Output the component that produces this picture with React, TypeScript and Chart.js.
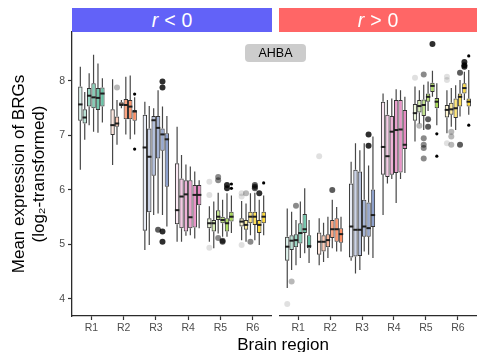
import React, { useEffect, useRef } from 'react';
import { Chart, registerables } from 'chart.js';

Chart.register(...registerables);

const regions = ['R1', 'R2', 'R3', 'R4', 'R5', 'R6'];
const regionColors = ['#66C2A5', '#FC8D62', '#8DA0CB', '#E78AC3', '#A6D854', '#FFD92F'];
const groupAlpha = [0.2, 0.45, 0.65, 0.8, 0.92, 1];
const outlierAlpha = [0.12, 0.28, 0.46, 0.64, 0.82, 1];
const outlierRadius = [3, 3, 3, 3, 3, 1.6];
const yTicks = [4, 5, 6, 7, 8];
const yMin = 3.688;
const yMax = 8.899;

// r < 0 panel: rows = regions R1..R6, columns = 6 boxes per region
const negLow = [
  [6.37, 6.92, 7.19, 7.07, 7.05, 7.24],
  [6.46, 6.83, 7.5, 7.02, 6.93, 7.02],
  [4.9, 4.99, 5.54, 5.57, 5.54, 5.33],
  [5.05, 5.05, 5.16, 5.17, 5.11, 5.3],
  [5.05, 4.93, 5.2, 5.14, 5.14, 5.21],
  [5.08, 5.05, 5.17, 5.08, 4.99, 5.17],
];
const negQ1 = [
  [7.27, 7.22, 7.53, 7.5, 7.47, 7.53],
  [7.01, 7.16, 7.54, 7.3, 7.3, 7.27],
  [5.25, 5.59, 6.26, 6.58, 6.72, 6.06],
  [5.37, 5.3, 5.24, 5.3, 5.31, 5.72],
  [5.3, 5.24, 5.45, 5.39, 5.24, 5.42],
  [5.33, 5.27, 5.39, 5.36, 5.21, 5.39],
];
const negMed = [
  [7.57, 7.33, 7.73, 7.7, 7.69, 7.77],
  [7.19, 7.22, 7.57, 7.56, 7.53, 7.44],
  [6.78, 6.61, 7.28, 7.14, 7.02, 6.93],
  [5.63, 5.88, 5.92, 5.5, 5.91, 5.91],
  [5.39, 5.39, 5.51, 5.45, 5.39, 5.51],
  [5.42, 5.36, 5.51, 5.51, 5.36, 5.51],
];
const negQ3 = [
  [7.9, 7.48, 7.87, 7.96, 7.87, 7.88],
  [7.48, 7.35, 7.61, 7.67, 7.65, 7.47],
  [7.38, 7.13, 7.36, 7.36, 7.13, 7.04],
  [6.49, 6.21, 6.18, 6.18, 6.09, 6.09],
  [5.48, 5.45, 5.63, 5.51, 5.48, 5.6],
  [5.48, 5.45, 5.6, 5.6, 5.45, 5.6],
];
const negHigh = [
  [8.26, 7.8, 8.14, 8.48, 8.32, 8.05],
  [8.03, 7.65, 7.65, 8.08, 8.1, 7.7],
  [7.62, 7.54, 7.5, 7.83, 7.53, 7.36],
  [7.16, 6.64, 6.47, 6.43, 6.34, 6.18],
  [5.7, 5.79, 5.95, 5.82, 5.94, 5.9],
  [5.8, 5.75, 5.94, 5.95, 5.82, 5.9],
];
// [region index, box index, value]
const negOutliers = [
  [1, 1, 7.88], [1, 5, 7.76], [1, 5, 6.75],
  [2, 4, 7.99], [2, 4, 7.88], [2, 3, 5.27], [2, 4, 5.24], [2, 4, 5.05],
  [4, 0, 6.15], [4, 0, 5.91], [4, 0, 4.94], [4, 2, 6.24], [4, 2, 6.18], [4, 2, 5.12],
  [4, 3, 5.07], [4, 3, 5.05], [4, 4, 6.09], [4, 4, 6.03], [4, 5, 6.11], [4, 5, 6.03],
  [5, 0, 5.94], [5, 0, 5.88], [5, 0, 4.99], [5, 1, 5.94], [5, 2, 5.05], [5, 3, 6.09],
  [5, 3, 6.03], [5, 3, 6.06], [5, 4, 5.94], [5, 5, 6.13],
];

// r > 0 panel
const posLow = [
  [4.2, 4.53, 4.62, 4.75, 4.84, 4.66],
  [4.62, 4.68, 4.75, 4.93, 4.87, 4.87],
  [4.7, 4.47, 4.53, 4.87, 4.81, 4.75],
  [5.54, 6.12, 6.2, 5.76, 6.2, 6.31],
  [6.89, 7.22, 7.1, 7.45, 7.71, 7.19],
  [7.04, 7.16, 7.1, 7.35, 7.65, 7.38],
];
const posQ1 = [
  [4.7, 4.9, 4.95, 5.02, 5.21, 4.93],
  [4.81, 4.87, 4.95, 5.12, 5.05, 5.03],
  [4.76, 4.78, 4.79, 5.14, 5.14, 5.32],
  [6.28, 6.24, 6.28, 6.31, 6.32, 6.75],
  [7.27, 7.42, 7.36, 7.62, 7.8, 7.5],
  [7.33, 7.38, 7.32, 7.53, 7.77, 7.53],
];
const posMed = [
  [4.96, 5.07, 5.08, 5.21, 5.28, 4.97],
  [5.05, 5.05, 5.08, 5.28, 5.28, 5.19],
  [5.33, 5.27, 5.27, 5.33, 5.3, 5.54],
  [6.79, 6.62, 7.07, 7.1, 7.11, 6.83],
  [7.41, 7.54, 7.56, 7.71, 7.91, 7.62],
  [7.47, 7.48, 7.5, 7.71, 7.87, 7.62],
];
const posQ3 = [
  [5.14, 5.17, 5.19, 5.39, 5.56, 5.17],
  [5.22, 5.17, 5.19, 5.45, 5.48, 5.3],
  [6.12, 6.37, 6.34, 5.82, 5.77, 6.01],
  [7.62, 7.38, 7.36, 7.65, 7.65, 7.47],
  [7.58, 7.65, 7.66, 7.77, 7.97, 7.69],
  [7.56, 7.6, 7.68, 7.77, 7.96, 7.68],
];
const posHigh = [
  [5.66, 5.6, 5.45, 5.79, 6.03, 5.45],
  [5.48, 5.4, 5.51, 5.82, 5.69, 5.51],
  [6.52, 6.86, 6.73, 6.86, 6.45, 6.98],
  [7.77, 7.65, 7.68, 7.85, 7.83, 7.71],
  [7.9, 7.83, 7.93, 7.99, 8.19, 7.96],
  [7.83, 7.87, 7.92, 8.02, 8.17, 8.2],
];
const posOutliers = [
  [0, 0, 3.91], [0, 1, 4.32], [0, 2, 5.71],
  [1, 0, 6.62], [1, 3, 6.0],
  [2, 4, 7.02], [2, 4, 6.81],
  [4, 0, 8.06], [4, 1, 7.18], [4, 2, 8.12], [4, 2, 6.95], [4, 2, 6.83], [4, 2, 6.77],
  [4, 2, 6.58], [4, 3, 7.3], [4, 3, 7.16], [4, 4, 8.68], [4, 5, 7.03], [4, 5, 6.62],
  [5, 0, 8.08], [5, 0, 8.02], [5, 0, 6.86], [5, 1, 7.07], [5, 1, 6.98], [5, 1, 6.83],
  [5, 3, 8.15], [5, 3, 6.83], [5, 4, 8.35], [5, 4, 8.29], [5, 4, 8.26], [5, 5, 8.46], [5, 5, 7.19],
];

const FONT = '"Liberation Sans", Arial, Helvetica, sans-serif';

function rgba(hex: string, a: number) {
  const n = parseInt(hex.slice(1), 16);
  return `rgba(${(n >> 16) & 255},${(n >> 8) & 255},${n & 255},${a})`;
}

type Stats = {
  low: number[][];
  q1: number[][];
  med: number[][];
  q3: number[][];
  high: number[][];
  outliers: number[][];
};

function makePanel(canvas: HTMLCanvasElement, s: Stats, showY: boolean) {
  const boxExtras = {
    id: 'boxExtras',
    afterDatasetsDraw(chart: any) {
      const ctx = chart.ctx;
      const y = chart.scales.y;
      ctx.save();
      chart.data.datasets.forEach((_: any, g: number) => {
        const meta = chart.getDatasetMeta(g);
        meta.data.forEach((el: any, r: number) => {
          const x = el.x;
          const w = el.width;
          ctx.strokeStyle = '#474747';
          ctx.lineWidth = 1.2;
          ctx.beginPath();
          ctx.moveTo(x, y.getPixelForValue(s.q3[r][g]));
          ctx.lineTo(x, y.getPixelForValue(s.high[r][g]));
          ctx.moveTo(x, y.getPixelForValue(s.q1[r][g]));
          ctx.lineTo(x, y.getPixelForValue(s.low[r][g]));
          ctx.stroke();
          const ym = y.getPixelForValue(s.med[r][g]);
          ctx.strokeStyle = '#1e1e1e';
          ctx.lineWidth = 2;
          ctx.beginPath();
          ctx.moveTo(x - w / 2, ym);
          ctx.lineTo(x + w / 2, ym);
          ctx.stroke();
        });
      });
      s.outliers.forEach(([r, g, v]) => {
        const el = chart.getDatasetMeta(g).data[r];
        ctx.fillStyle = `rgba(0,0,0,${outlierAlpha[g]})`;
        ctx.beginPath();
        ctx.arc(el.x, y.getPixelForValue(v), outlierRadius[g], 0, Math.PI * 2);
        ctx.fill();
      });
      ctx.restore();
    },
  };

  const datasets = groupAlpha.map((a, g) => ({
    data: regions.map((_, r) => [s.q1[r][g], s.q3[r][g]]),
    backgroundColor: regions.map((_, r) => rgba(regionColors[r], a)),
    borderColor: '#333333',
    borderWidth: 1,
    borderSkipped: false,
    categoryPercentage: 0.82,
    barPercentage: 1,
  }));

  return new Chart(canvas, {
    type: 'bar',
    data: { labels: regions, datasets },
    plugins: [boxExtras],
    options: {
      animation: false,
      responsive: false,
      devicePixelRatio: 1,
      layout: { padding: { top: 32, left: 0, right: 0, bottom: 0 } },
      plugins: { legend: { display: false }, tooltip: { enabled: false } },
      scales: {
        x: {
          type: 'category',
          offset: false,
          grid: {
            offset: false,
            drawOnChartArea: false,
            drawTicks: true,
            tickLength: 4,
            color: '#333333',
            tickWidth: 1.2,
          },
          border: { display: true, color: '#2b2b2b', width: 1.3 },
          ticks: {
            color: '#4D4D4D',
            font: { family: FONT, size: 10.5 },
            padding: 2,
            maxRotation: 0,
            autoSkip: false,
          },
          afterBuildTicks: (sc: any) => {
            sc._startValue = -0.6;
            sc._valueRange = 6.2;
          },
          afterFit: (sc: any) => {
            sc.height = 36;
          },
        },
        y: {
          display: showY,
          min: yMin,
          max: yMax,
          grid: {
            drawOnChartArea: false,
            drawTicks: true,
            tickLength: 4,
            color: '#333333',
            tickWidth: 1.2,
          },
          border: { display: true, color: '#2b2b2b', width: 1.3 },
          ticks: {
            color: '#4D4D4D',
            font: { family: FONT, size: 10.5 },
            padding: 3,
          },
          title: {
            display: showY,
            text: ['Mean expression of BRGs', '(log\u2082-transformed)'],
            color: '#000000',
            font: { family: FONT, size: 17, lineHeight: 1.13 },
            padding: { top: 10, bottom: 0 },
          },
          afterBuildTicks: (sc: any) => {
            sc.ticks = yTicks.map((v) => ({ value: v }));
          },
          afterFit: (sc: any) => {
            sc.width = showY ? 72 : 0;
          },
        },
      },
    } as any,
  });
}

const stripStyle: React.CSSProperties = {
  position: 'absolute',
  top: 8,
  height: 24,
  display: 'flex',
  alignItems: 'center',
  justifyContent: 'center',
  color: '#ffffff',
  fontSize: 19.5,
  lineHeight: '24px',
  whiteSpace: 'nowrap',
};

function StripText({ op }: { op: string }) {
  return (
    <span>
      <i>r</i>
      <span style={{ margin: '0 6px' }}>{op}</span>
      <span>0</span>
    </span>
  );
}

export default function App() {
  const leftRef = useRef<HTMLCanvasElement>(null);
  const rightRef = useRef<HTMLCanvasElement>(null);

  useEffect(() => {
    const left = makePanel(
      leftRef.current!,
      { low: negLow, q1: negQ1, med: negMed, q3: negQ3, high: negHigh, outliers: negOutliers },
      true
    );
    const right = makePanel(
      rightRef.current!,
      { low: posLow, q1: posQ1, med: posMed, q3: posQ3, high: posHigh, outliers: posOutliers },
      false
    );
    return () => {
      left.destroy();
      right.destroy();
    };
  }, []);

  return (
    <div
      style={{
        position: 'fixed',
        left: 0,
        top: 0,
        width: 477,
        height: 352,
        background: '#ffffff',
        overflow: 'hidden',
        fontFamily: FONT,
      }}
    >
      <canvas ref={leftRef} width={272} height={352} style={{ position: 'absolute', left: 0, top: 0 }} />
      <canvas ref={rightRef} width={198} height={352} style={{ position: 'absolute', left: 279, top: 0 }} />
      <div style={{ ...stripStyle, left: 72, width: 200, background: '#6262F8' }}>
        <StripText op="<" />
      </div>
      <div style={{ ...stripStyle, left: 279, width: 198, background: '#FF6666' }}>
        <StripText op=">" />
      </div>
      <div
        style={{
          position: 'absolute',
          left: 245,
          top: 44,
          width: 61,
          height: 18,
          borderRadius: 4,
          background: '#CCCCCC',
          color: '#000000',
          fontSize: 12.5,
          lineHeight: '18px',
          textAlign: 'center',
        }}
      >
        AHBA
      </div>
      <div
        style={{
          position: 'absolute',
          left: 283,
          top: 335,
          transform: 'translateX(-50%)',
          fontSize: 17,
          lineHeight: '20px',
          color: '#000000',
          whiteSpace: 'nowrap',
        }}
      >
        Brain region
      </div>
    </div>
  );
}
